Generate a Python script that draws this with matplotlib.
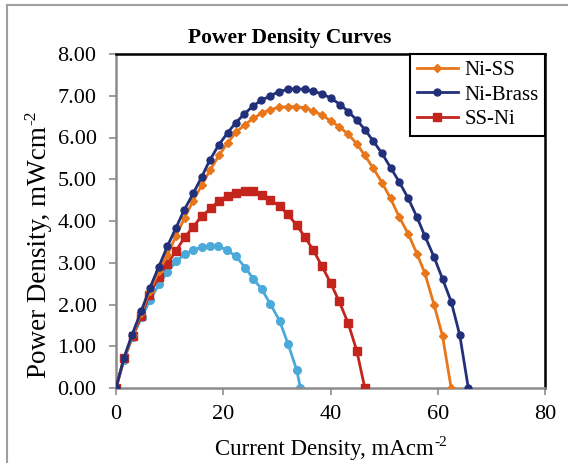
import matplotlib
matplotlib.use("Agg")
import matplotlib.pyplot as plt
from matplotlib.lines import Line2D

# ---- data ----
ni_ss_x = [0, 1.5, 3.1, 4.7, 6.3, 8.0, 9.6, 11.2, 12.8, 14.4, 16.0, 17.6, 19.2, 20.8, 22.4, 24.0,
           25.6, 27.2, 28.8, 30.4, 32.0, 33.6, 35.2, 36.8, 38.4, 40.0, 41.6, 43.3, 44.9, 46.4,
           48.0, 49.6, 51.2, 52.8, 54.5, 56.1, 57.6, 59.3, 60.9, 62.5]
ni_ss_y = [0, 0.71, 1.27, 1.80, 2.32, 2.80, 3.19, 3.64, 4.08, 4.49, 4.86, 5.23, 5.57, 5.87, 6.13,
           6.30, 6.46, 6.58, 6.67, 6.72, 6.74, 6.74, 6.71, 6.63, 6.54, 6.40, 6.26, 6.08, 5.85,
           5.57, 5.26, 4.92, 4.54, 4.10, 3.69, 3.22, 2.75, 2.00, 1.24, 0]

ni_brass_x = [0, 1.5, 3.0, 4.7, 6.3, 8.0, 9.6, 11.2, 12.7, 14.4, 16.0, 17.5, 19.2, 20.8, 22.3,
              23.9, 25.5, 27.1, 28.8, 30.4, 32.0, 33.6, 35.2, 36.8, 38.5, 40.1, 41.8, 43.3, 44.9,
              46.4, 48.0, 49.6, 51.2, 52.8, 54.5, 56.1, 57.6, 59.3, 60.9, 62.5, 64.1, 65.7]
ni_brass_y = [0, 0.73, 1.28, 1.84, 2.39, 2.91, 3.40, 3.84, 4.26, 4.66, 5.06, 5.46, 5.83, 6.11,
              6.35, 6.56, 6.75, 6.89, 7.00, 7.10, 7.15, 7.17, 7.15, 7.11, 7.04, 6.94, 6.79, 6.62,
              6.42, 6.19, 5.91, 5.62, 5.28, 4.94, 4.54, 4.10, 3.64, 3.14, 2.61, 2.07, 1.27, 0]

ss_ni_x = [0, 1.5, 3.1, 4.7, 6.2, 8.0, 9.6, 11.2, 12.8, 14.4, 16.0, 17.7, 19.2, 20.8, 22.4, 24.0,
           25.6, 27.2, 28.8, 30.5, 32.0, 33.7, 35.2, 36.8, 38.4, 40.0, 41.6, 43.3, 44.9, 46.4]
ss_ni_y = [0, 0.71, 1.25, 1.72, 2.23, 2.67, 2.98, 3.29, 3.61, 3.86, 4.12, 4.30, 4.49, 4.60, 4.68,
           4.72, 4.72, 4.63, 4.50, 4.36, 4.16, 3.90, 3.62, 3.30, 2.92, 2.52, 2.08, 1.55, 0.89, 0]

s4_x = [0, 1.5, 3.1, 4.8, 6.3, 8.0, 9.6, 11.2, 12.8, 14.4, 16.0, 17.5, 19.1, 20.7, 22.4, 24.1,
        25.6, 27.2, 28.8, 30.5, 32.1, 33.7, 34.4]
s4_y = [0, 0.67, 1.23, 1.69, 2.10, 2.48, 2.78, 3.03, 3.20, 3.31, 3.37, 3.40, 3.40, 3.30, 3.15,
        2.88, 2.62, 2.36, 2.01, 1.61, 1.05, 0.43, 0]

x_ticks = [0, 20, 40, 60, 80]
y_ticks = [0, 1, 2, 3, 4, 5, 6, 7, 8]

W, H = 568, 463
fig = plt.figure(figsize=(W / 100, H / 100), dpi=100)
ax = fig.add_axes([116 / W, 75 / H, 429 / W, 334 / H])

serif = "Liberation Serif"
c_orange = "#E8761A"
c_navy = "#22307A"
c_red = "#C3251D"
c_blue = "#4BAADA"

ax.plot(s4_x, s4_y, color=c_blue, lw=2.0, marker="o", ms=5.5, zorder=2)
ax.plot(ss_ni_x, ss_ni_y, color=c_red, lw=2.0, marker="s", ms=5.5, label="SS-Ni", zorder=3)
ax.plot(ni_ss_x, ni_ss_y, color=c_orange, lw=2.0, marker="D", ms=4, label="Ni-SS", zorder=4)
ax.plot(ni_brass_x, ni_brass_y, color=c_navy, lw=2.0, marker="o", ms=5, label="Ni-Brass", zorder=5)

ax.set_xlim(0, 80)
ax.set_ylim(0, 8)
ax.set_xticks(x_ticks)
ax.set_yticks(y_ticks)
ax.set_xticklabels([str(v) for v in x_ticks], family=serif, fontsize=16)
ax.set_yticklabels([f"{v:.2f}" for v in y_ticks], family=serif, fontsize=16)
ax.tick_params(axis="both", direction="out", length=5, width=1.2, color="#8C8C8C")
ax.tick_params(axis="y", pad=9)
ax.tick_params(axis="x", pad=7)

for s in ("left", "bottom"):
    ax.spines[s].set_color("#8C8C8C")
    ax.spines[s].set_linewidth(1.8)
for s in ("top", "right"):
    ax.spines[s].set_color("black")
    ax.spines[s].set_linewidth(1.8)

handles, labels = ax.get_legend_handles_labels()
order = [labels.index("Ni-SS"), labels.index("Ni-Brass"), labels.index("SS-Ni")]
leg = ax.legend([handles[i] for i in order], [labels[i] for i in order],
                loc="upper right", bbox_to_anchor=(1.0, 1.0), borderaxespad=0,
                prop={"family": serif, "size": 15}, fancybox=False, framealpha=1,
                edgecolor="black", handlelength=2.0, handletextpad=0.3,
                labelspacing=0.25, borderpad=0.3)
leg.get_frame().set_linewidth(1.5)

fig.text(290 / W, 1 - 38 / H, "Power Density Curves", ha="center", va="center",
         family=serif, fontweight="bold", fontsize=15.5)

# axis labels with short-hyphen superscripts
fig.canvas.draw()
r = fig.canvas.get_renderer()

x_base = H - 455
xl = fig.text(0, x_base / H, "Current Density, mAcm", ha="left", va="baseline",
              family=serif, fontsize=16.5)
xs = fig.text(0, (x_base + 9) / H, "-2", ha="left", va="baseline", family=serif, fontsize=11)
w1 = xl.get_window_extent(r).width
w2 = xs.get_window_extent(r).width
x0 = 331 - (w1 + 1 + w2) / 2
xl.set_x(x0 / W)
xs.set_x((x0 + w1 + 1) / W)

yl = fig.text(46 / W, 1 - 378 / H, "Power Density, mWcm", ha="left", va="baseline",
              rotation=90, rotation_mode="anchor", family=serif, fontsize=19.5)
bb = yl.get_window_extent(r)
fig.text((46 - 11) / W, (bb.y1 + 1) / H, "-2", ha="left", va="baseline",
         rotation=90, rotation_mode="anchor", family=serif, fontsize=12.5)

# outer chart border (top and left visible)
fig.add_artist(Line2D([7 / W, 1], [1 - 5 / H, 1 - 5 / H], transform=fig.transFigure,
                      color="#A0A0A0", lw=1.5))
fig.add_artist(Line2D([7 / W, 7 / W], [0, 1 - 5 / H], transform=fig.transFigure,
                      color="#A0A0A0", lw=1.5))

fig.savefig("out.png", dpi=100)
